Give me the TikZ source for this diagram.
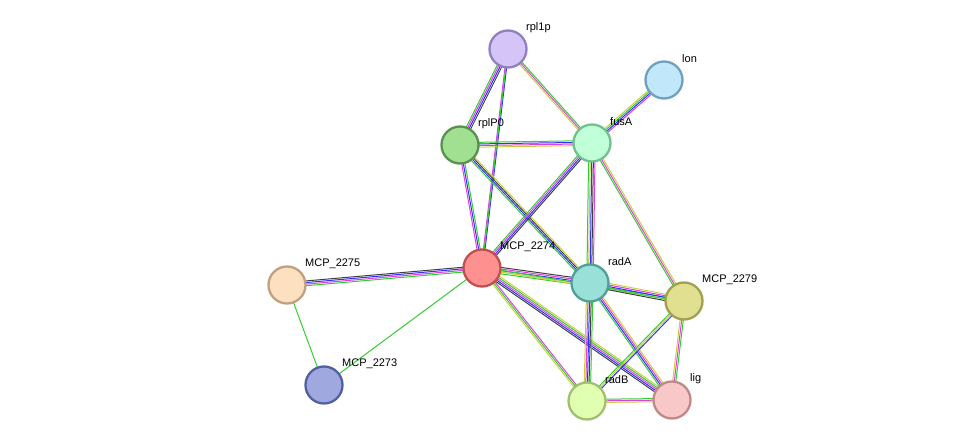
\documentclass[tikz,border=0pt]{standalone}
\usepackage{fontspec}
\setmainfont{Liberation Sans}
\usetikzlibrary{calc}
\definecolor{eg}{HTML}{33CC33}
\definecolor{ey}{HTML}{C8D040}
\definecolor{em}{HTML}{E040E0}
\definecolor{eb}{HTML}{3030FF}
\definecolor{ek}{HTML}{404040}
\tikzset{prot/.style={circle,minimum size=37pt,inner sep=0pt,line width=2.3pt},
  lab/.style={anchor=west,font=\fontsize{11}{12}\selectfont,inner sep=0pt},
  edgeline/.style={line width=1pt}}
\newcommand\pnode[5]{\definecolor{f#1}{HTML}{#4}\definecolor{d#1}{HTML}{#5}%
  \node[prot,fill=f#1,draw=d#1] (#1) at (#2,#3) {};
  \node[lab] (#1-l) at ($(#1)+(18,-21)$) {\detokenize{#1}};}
\newcommand\eg[3]{\foreach \c [count=\i] in {#3}{\xdef\nn{\i}}%
  \foreach \c [count=\i] in {#3}{\pgfmathsetmacro\o{(\i-(\nn+1)/2)*1.6}%
  \draw[edgeline,\c] ($(#1)!\o pt!90:(#2)$) -- ($(#2)!\o pt!-90:(#1)$);}}
\begin{document}
\begin{tikzpicture}[x=1pt,y=-1pt]
\useasboundingbox (0,0) rectangle (975,446);
\coordinate (rpl1p) at (508,49);
\coordinate (lon) at (664,80);
\coordinate (rplP0) at (460,145);
\coordinate (fusA) at (592,143);
\coordinate (MCP_2274) at (482,268);
\coordinate (radA) at (590,283);
\coordinate (MCP_2279) at (684,301);
\coordinate (MCP_2275) at (287,285);
\coordinate (MCP_2273) at (324,385);
\coordinate (radB) at (587,401);
\coordinate (lig) at (672,400);
\eg{rpl1p}{rplP0}{eg,em,eb,ek}
\eg{rpl1p}{fusA}{ey,em,eg}
\eg{rpl1p}{MCP_2274}{em,eb}
\eg{rpl1p}{MCP_2274}{eg}
\eg{lon}{fusA}{ey,eg,eb,em}
\eg{rplP0}{fusA}{ey,em,eb,eg}
\eg{rplP0}{MCP_2274}{em,eb,eg}
\eg{rplP0}{radA}{eg,eb,ek,ey}
\eg{fusA}{MCP_2274}{eg,em,eb,ek}
\eg{fusA}{radA}{eg,ey,eb,ek,em}
\eg{fusA}{MCP_2279}{eg,em,ey}
\eg{MCP_2274}{radA}{eg,ey,eb,em,ek}
\eg{MCP_2274}{MCP_2279}{ey,eg}
\eg{MCP_2274}{radB}{ey,eg,em}
\eg{MCP_2274}{lig}{ek,eb,em,eg,ey}
\eg{MCP_2274}{MCP_2275}{ek,eb,em,eg}
\eg{MCP_2274}{MCP_2273}{eg}
\eg{MCP_2275}{MCP_2273}{eg}
\eg{radA}{MCP_2279}{ek,eg,eb,em,ey}
\eg{radA}{radB}{ey,em,eb,ek,eg}
\eg{radA}{lig}{eg,eb,em,ey}
\eg{MCP_2279}{radB}{eg,ey,eb}
\eg{MCP_2279}{lig}{ey,em,eg}
\eg{radB}{lig}{ey,em,eg}
\pnode{rpl1p}{508}{49}{D4C4F8}{9080C0}
\pnode{lon}{664}{80}{C0E8FA}{70A0C0}
\pnode{rplP0}{460}{145}{A0E090}{5A9050}
\pnode{fusA}{592}{143}{C0FFD8}{70C090}
\pnode{MCP_2274}{482}{268}{FF9090}{C05050}
\pnode{radA}{590}{283}{98E0D8}{50A098}
\pnode{MCP_2279}{684}{301}{E0E090}{A0A050}
\pnode{MCP_2275}{287}{285}{FDE0C0}{C0A080}
\pnode{MCP_2273}{324}{385}{A0A8E0}{5060A0}
\pnode{radB}{587}{401}{E0FFB0}{A0C070}
\pnode{lig}{672}{400}{F8C8C8}{C08888}
\end{tikzpicture}
\end{document}
